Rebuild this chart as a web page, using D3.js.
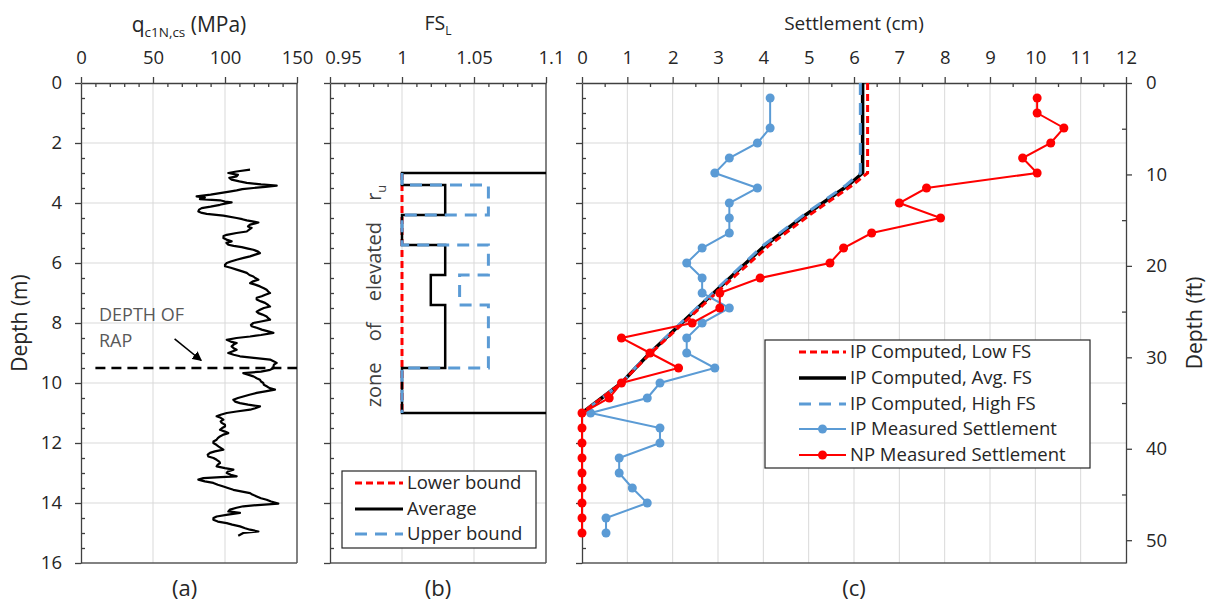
<!DOCTYPE html>
<html>
<head>
<meta charset="utf-8">
<script src="https://cdn.jsdelivr.net/npm/d3@7"></script>
<style>
  body { margin: 0; background: #fff; }
  svg { display: block; font-family: "Open Sans", "Noto Sans", sans-serif; }
</style>
</head>
<body>
<svg id="chart" width="1208" height="602"></svg>
<script>
// ---------- (a) CPT profile: depth (m) and q_c1N,cs (MPa) ----------
const cptDepth = [2.89,2.95,3.0,3.06,3.11,3.16,3.22,3.28,3.33,3.38,3.42,3.46,3.50,3.54,3.58,3.62,3.67,3.72,3.78,3.82,3.87,3.91,3.95,3.98,4.02,4.06,4.12,4.17,4.22,4.28,4.33,4.36,4.42,4.50,4.54,4.58,4.62,4.65,4.68,4.72,4.78,4.83,4.88,4.95,5.0,5.06,5.1,5.17,5.22,5.28,5.33,5.39,5.43,5.47,5.52,5.56,5.62,5.67,5.72,5.78,5.83,5.89,5.95,6.0,6.06,6.11,6.16,6.22,6.28,6.33,6.40,6.45,6.5,6.56,6.62,6.67,6.72,6.78,6.84,6.89,6.95,7.0,7.06,7.11,7.16,7.22,7.28,7.33,7.40,7.45,7.5,7.56,7.62,7.67,7.72,7.78,7.84,7.89,7.95,8.0,8.06,8.11,8.16,8.22,8.28,8.33,8.40,8.45,8.5,8.56,8.62,8.67,8.72,8.78,8.84,8.89,8.95,9.0,9.06,9.11,9.16,9.22,9.28,9.33,9.39,9.45,9.5,9.56,9.62,9.67,9.72,9.78,9.84,9.89,9.95,10.0,10.06,10.11,10.17,10.22,10.28,10.33,10.39,10.45,10.5,10.56,10.62,10.67,10.72,10.78,10.84,10.89,10.95,11.0,11.06,11.11,11.16,11.22,11.28,11.33,11.39,11.45,11.5,11.56,11.62,11.67,11.72,11.78,11.84,11.89,11.95,12.0,12.06,12.11,12.16,12.22,12.28,12.33,12.39,12.45,12.5,12.56,12.62,12.67,12.72,12.78,12.84,12.89,12.95,13.0,13.06,13.11,13.14,13.17,13.22,13.28,13.33,13.39,13.45,13.5,13.56,13.62,13.67,13.72,13.78,13.84,13.89,13.95,14.02,14.06,14.11,14.16,14.22,14.28,14.33,14.39,14.45,14.5,14.56,14.62,14.67,14.72,14.78,14.84,14.89,14.95,15.0,15.09];
const cptQ = [117.4,108,102.3,109,108.1,103,104.6,110,115.1,125,135.9,128,119.7,112,108.1,103,96.5,90,80.3,86,82.6,96.5,100,104.6,100,96.5,90,83.8,82,81.5,84,87.3,98.9,108.1,112,115.1,120,123.2,121,117.4,116,118.5,117,115.1,108,101.2,99,98.9,101,104.6,101,102.3,106,111.6,116,119.7,123,124.3,121,117.4,113,108.1,104,101.2,100,100,104,108.1,112,115.1,117,119.7,121,123.2,119,117.4,121,124.3,127,128.9,130,131.3,128,125.5,122,122.0,125,127.8,130,131.3,127,124.3,122,123.2,126,128.9,130,131.3,125,119.7,118,118.5,122,125.5,130,133.6,125,117.4,108,101.2,104,108.1,106,104.6,106,108.1,105,102.3,106,110.4,120,131.3,134,135.9,134,133.6,134,131.3,125,112.7,116,119.7,122,124.3,125,126.6,127,128.9,131,134.7,128,122.0,117,112.7,109,105.8,107,110.4,116,124.3,121,117.4,108,101.2,97,94.2,97,98.9,97,97.7,100,100.0,98,96.5,100,102.3,99,96.5,95,94.2,92,91.9,94,95.4,97,98.9,93,89.6,88,88.4,92,94.2,96,96.5,95,94.2,100,105.8,102,101.2,104,108.1,97,85.0,81.5,86,91.9,95,98.9,102,105.8,112,117.4,119,122.0,125,128.9,132,137.0,125,112.7,108,103.5,102.3,110.4,102,94.2,92,91.9,95,101.2,105,110.4,114,117.4,123.2,112.7,109.2];
const rapDepth = 9.5;

// ---------- (b) FS_L profiles (FS value, depth) ----------
const fsLowerFS    = [1, 1];
const fsLowerDepth = [3.0, 11.0];
const fsAvgFS      = [1.1, 1, 1, 1.03, 1.03, 1, 1, 1.03, 1.03, 1.02, 1.02, 1.03, 1.03, 1, 1, 1.1];
const fsAvgDepth   = [3.0, 3.0, 3.4, 3.4, 4.4, 4.4, 5.4, 5.4, 6.4, 6.4, 7.4, 7.4, 9.5, 9.5, 11.0, 11.0];
const fsUpperFS    = [1, 1, 1.06, 1.06, 1, 1, 1.06, 1.06, 1.04, 1.04, 1.06, 1.06, 1, 1];
const fsUpperDepth = [3.0, 3.4, 3.4, 4.4, 4.4, 5.4, 5.4, 6.4, 6.4, 7.4, 7.4, 9.5, 9.5, 11.0];

// ---------- (c) Settlement (cm) ----------
const compDepth = [0, 3.0, 3.4, 4.4, 5.4, 6.4, 7.4, 8.0, 9.0, 9.5, 10.0, 11.0];
const compLow   = [6.30, 6.30, 5.97, 5.02, 4.14, 3.40, 2.67, 2.24, 1.52, 1.19, 0.87, 0];
const compAvg   = [6.19, 6.19, 5.88, 4.93, 4.05, 3.33, 2.62, 2.20, 1.50, 1.18, 0.87, 0];
const compHigh  = [6.14, 6.14, 5.83, 4.89, 4.01, 3.30, 2.60, 2.18, 1.49, 1.17, 0.87, 0];

const ipDepth = [0.5,1.5,2,2.5,3,3.5,4,4.5,5,5.5,6,6.5,7,7.5,8,8.5,9,9.5,10,10.5,11,11.5,12,12.5,13,13.5,14,14.5,15];
const ipMeasured = [4.15,4.15,3.87,3.25,2.93,3.87,3.25,3.25,3.25,2.65,2.31,2.65,2.65,3.25,2.65,2.31,2.31,2.93,1.72,1.44,0.19,1.72,1.72,0.82,0.82,1.11,1.44,0.53,0.53];
const npDepth = [0.5,1,1.5,2,2.5,3,3.5,4,4.5,5,5.5,6,6.5,7,7.5,8,8.5,9,9.5,10,10.5,11,11.5,12,12.5,13,13.5,14,14.5,15];
const npMeasured = [10.04,10.04,10.63,10.34,9.72,10.04,7.60,7.00,7.91,6.39,5.77,5.47,3.93,3.04,3.04,2.43,0.87,1.50,2.13,0.87,0.60,0,0,0,0,0,0,0,0,0];

// ---------- axis ticks ----------
const depthMajor = [0, 2, 4, 6, 8, 10, 12, 14, 16];
const depthMinor = d3.range(0.5, 16, 0.5).filter(v => v % 2 !== 0);
const qMajor = [0, 50, 100, 150];
const qMinor = [10, 20, 30, 40, 60, 70, 80, 90, 110, 120, 130, 140];
const fsMajor = [0.95, 1, 1.05, 1.1];
const fsMinor = [96, 97, 98, 99, 101, 102, 103, 104, 106, 107, 108, 109].map(v => v / 100);
const sMajor = d3.range(0, 13, 1);
const sMinor = d3.range(0.5, 12, 1);
const ftMajor = [0, 10, 20, 30, 40, 50];
const ftMinor = [5, 15, 25, 35, 45];
const M_TO_FT = 3.28084;

// ---------- colours ----------
const AX = "#404040", GRID = "#d9d9d9", TXT = "#262626";
const RED = "#ff0000", BLUE = "#5b9bd5";

const svg = d3.select("#chart");

const y   = d3.scaleLinear().domain([0, 16]).range([83, 563]);
const yft = d3.scaleLinear().domain([0, 16 * M_TO_FT]).range([83, 563]);
const xa  = d3.scaleLinear().domain([0, 150]).range([81, 297]);
const xb  = d3.scaleLinear().domain([0.95, 1.1]).range([330, 546]);
const xc  = d3.scaleLinear().domain([0, 12]).range([582, 1126]);

function styleAxis(sel) {
  sel.selectAll("path").attr("stroke", AX).attr("stroke-width", 1.3);
  sel.selectAll("line").attr("stroke", AX).attr("stroke-width", 1.3);
  sel.selectAll("text").attr("fill", TXT).attr("font-size", 18.5)
     .attr("font-family", "'Open Sans', sans-serif");
}

function panel(x, major, minor, fmt, depthLabels, rightFrame) {
  const g = svg.append("g");
  const [x0, x1] = x.range();
  const [y0, y1] = y.range();

  // light grid
  g.append("g").selectAll("line").data(major.slice(1, -1)).join("line")
    .attr("x1", d => x(d)).attr("x2", d => x(d)).attr("y1", y0).attr("y2", y1)
    .attr("stroke", GRID).attr("stroke-width", 1);
  g.append("g").selectAll("line").data(depthMajor.slice(1, -1)).join("line")
    .attr("x1", x0).attr("x2", x1).attr("y1", d => y(d)).attr("y2", d => y(d))
    .attr("stroke", GRID).attr("stroke-width", 1);

  // right and bottom frame
  if (rightFrame) {
    g.append("line").attr("x1", x1).attr("x2", x1).attr("y1", y0).attr("y2", y1)
      .attr("stroke", "#595959").attr("stroke-width", 1.5);
  }
  g.append("line").attr("x1", x0).attr("x2", x1).attr("y1", y1).attr("y2", y1)
    .attr("stroke", "#595959").attr("stroke-width", 1.5);

  // top axis
  const top = g.append("g").attr("class", "top-axis").attr("transform", `translate(0,${y0})`)
    .call(d3.axisTop(x).tickValues(major).tickSize(6).tickSizeOuter(0).tickPadding(13).tickFormat(fmt))
    .call(styleAxis);
  g.append("g").attr("transform", `translate(0,${y0})`)
    .call(d3.axisTop(x).tickValues(minor).tickSize(-4).tickSizeOuter(0).tickFormat(""))
    .call(styleAxis).select(".domain").remove();

  // left depth axis
  g.append("g").attr("transform", `translate(${x0},0)`)
    .call(d3.axisLeft(y).tickValues(depthMajor).tickSize(6).tickSizeOuter(0).tickPadding(13)
      .tickFormat(depthLabels ? d3.format("d") : ""))
    .call(styleAxis);
  g.append("g").attr("transform", `translate(${x0},0)`)
    .call(d3.axisLeft(y).tickValues(depthMinor).tickSize(-4).tickSizeOuter(0).tickFormat(""))
    .call(styleAxis).select(".domain").remove();
  g.top = top;
  return g;
}

const gA = panel(xa, qMajor, qMinor, d3.format("d"), true, true);
const gB = panel(xb, fsMajor, fsMinor, d => String(d), false, true);
const gC = panel(xc, sMajor, sMinor, d3.format("d"), false, false);

// keep the outer FS labels clear of the neighbouring panels
gB.top.selectAll(".tick text").attr("dx", d => d === 0.95 ? 13 : (d === 1.1 ? 5 : 0));

// right-hand depth axis in feet
gC.append("g").attr("transform", `translate(${xc(12)},0)`)
  .call(d3.axisRight(yft).tickValues(ftMajor).tickSize(6).tickSizeOuter(0).tickPadding(14).tickFormat(d3.format("d")))
  .call(styleAxis);
gC.append("g").attr("transform", `translate(${xc(12)},0)`)
  .call(d3.axisRight(yft).tickValues(ftMinor).tickSize(-4).tickSizeOuter(0).tickFormat(""))
  .call(styleAxis).select(".domain").remove();

// ---------- (a) CPT trace ----------
const cptLine = d3.line().x(i => xa(cptQ[i])).y(i => y(cptDepth[i]));
gA.append("path").attr("d", cptLine(d3.range(cptDepth.length)))
  .attr("fill", "none").attr("stroke", "#000").attr("stroke-width", 2.2)
  .attr("stroke-linejoin", "round");

gA.append("line").attr("x1", xa(10)).attr("x2", xa(150))
  .attr("y1", y(rapDepth)).attr("y2", y(rapDepth))
  .attr("stroke", "#000").attr("stroke-width", 2.5).attr("stroke-dasharray", "10,6");

svg.append("defs").append("marker").attr("id", "arrow")
  .attr("viewBox", "0 0 10 10").attr("refX", 9).attr("refY", 5)
  .attr("markerWidth", 6).attr("markerHeight", 6).attr("orient", "auto")
  .append("path").attr("d", "M0,0 L10,5 L0,10 z").attr("fill", "#000");
gA.append("line").attr("x1", xa(65)).attr("y1", y(8.53)).attr("x2", xa(83.5)).attr("y2", y(9.25))
  .attr("stroke", "#000").attr("stroke-width", 1.6).attr("marker-end", "url(#arrow)");

gA.append("text").attr("x", xa(12.5)).attr("y", y(7.93)).attr("fill", "#595959")
  .attr("font-size", 18).text("DEPTH OF");
gA.append("text").attr("x", xa(12.5)).attr("y", y(8.8)).attr("fill", "#595959")
  .attr("font-size", 18).text("RAP");

// ---------- (b) FS_L steps ----------
const stepLine = (xs, ds) => d3.line().x(i => xb(xs[i])).y(i => y(ds[i]))(d3.range(xs.length));
gB.append("path").attr("d", stepLine(fsLowerFS, fsLowerDepth)).attr("fill", "none")
  .attr("stroke", RED).attr("stroke-width", 3).attr("stroke-dasharray", "7,4");
gB.append("path").attr("d", stepLine(fsAvgFS, fsAvgDepth)).attr("fill", "none")
  .attr("stroke", "#000").attr("stroke-width", 2.5);
gB.append("path").attr("d", stepLine(fsUpperFS, fsUpperDepth)).attr("fill", "none")
  .attr("stroke", BLUE).attr("stroke-width", 3).attr("stroke-dasharray", "12,8");

const zone = gB.append("text")
  .attr("transform", `translate(${xb(0.9806)},${y(7.1)}) rotate(-90)`)
  .attr("text-anchor", "middle").attr("dy", "0.35em")
  .attr("fill", "#404040").attr("font-size", 20).attr("word-spacing", 16);
zone.append("tspan").text("zone of elevated r");
zone.append("tspan").attr("font-size", 13).attr("dy", 5).text("u");

// ---------- (c) settlement curves ----------
const sLine = (xs, ds) => d3.line().x(i => xc(xs[i])).y(i => y(ds[i]))(d3.range(xs.length));
gC.append("path").attr("d", sLine(compAvg, compDepth)).attr("fill", "none")
  .attr("stroke", "#000").attr("stroke-width", 3.5).attr("stroke-linejoin", "round");
gC.append("path").attr("d", sLine(compHigh, compDepth)).attr("fill", "none")
  .attr("stroke", BLUE).attr("stroke-width", 3).attr("stroke-dasharray", "12,8");
gC.append("path").attr("d", sLine(compLow, compDepth)).attr("fill", "none")
  .attr("stroke", RED).attr("stroke-width", 3).attr("stroke-dasharray", "7,4");

gC.append("path").attr("d", sLine(ipMeasured, ipDepth)).attr("fill", "none")
  .attr("stroke", BLUE).attr("stroke-width", 2);
gC.append("g").selectAll("circle").data(d3.range(ipDepth.length)).join("circle")
  .attr("cx", i => xc(ipMeasured[i])).attr("cy", i => y(ipDepth[i])).attr("r", 4.5).attr("fill", BLUE);

gC.append("path").attr("d", sLine(npMeasured, npDepth)).attr("fill", "none")
  .attr("stroke", RED).attr("stroke-width", 2);
gC.append("g").selectAll("circle").data(d3.range(npDepth.length)).join("circle")
  .attr("cx", i => xc(npMeasured[i])).attr("cy", i => y(npDepth[i])).attr("r", 4.5).attr("fill", RED);

// ---------- legends ----------
function legend(x, yTop, w, h, rows, sx0, sx1, tx, rowY) {
  const g = svg.append("g");
  g.append("rect").attr("x", x).attr("y", yTop).attr("width", w).attr("height", h)
    .attr("fill", "#fff").attr("stroke", "#262626").attr("stroke-width", 1.2);
  rows.forEach((r, i) => {
    const yy = rowY[i];
    const ln = g.append("line").attr("x1", sx0).attr("x2", sx1).attr("y1", yy).attr("y2", yy)
      .attr("stroke", r.color).attr("stroke-width", r.width);
    if (r.dash) ln.attr("stroke-dasharray", r.dash);
    if (r.marker) g.append("circle").attr("cx", (sx0 + sx1) / 2).attr("cy", yy).attr("r", 4.5).attr("fill", r.color);
    g.append("text").attr("x", tx).attr("y", yy).attr("dy", "0.35em")
      .attr("fill", TXT).attr("font-size", 18.5).text(r.label);
  });
}
legend(342, 471, 194, 77, [
  { label: "Lower bound", color: RED, width: 3, dash: "7,4" },
  { label: "Average", color: "#000", width: 3 },
  { label: "Upper bound", color: BLUE, width: 3, dash: "12,8" }
], 355, 403, 407, [483, 509, 534]);
legend(765, 340, 325, 128, [
  { label: "IP Computed, Low FS", color: RED, width: 3, dash: "7,4" },
  { label: "IP Computed, Avg. FS", color: "#000", width: 3.5 },
  { label: "IP Computed, High FS", color: BLUE, width: 3, dash: "12,8" },
  { label: "IP Measured Settlement", color: BLUE, width: 2, marker: true },
  { label: "NP Measured Settlement", color: RED, width: 2, marker: true }
], 799, 846, 850, [352, 378, 404, 429, 455]);

// ---------- titles ----------
const tq = svg.append("text").attr("x", xa(75)).attr("y", 32).attr("text-anchor", "middle")
  .attr("fill", TXT).attr("font-size", 21);
tq.append("tspan").text("q");
tq.append("tspan").attr("font-size", 13.5).attr("dy", 5).text("c1N,cs");
tq.append("tspan").attr("dy", -5).text(" (MPa)");

const tfs = svg.append("text").attr("x", xb(1.025)).attr("y", 30).attr("text-anchor", "middle")
  .attr("fill", TXT).attr("font-size", 19.5);
tfs.append("tspan").text("FS");
tfs.append("tspan").attr("font-size", 12).attr("dy", 5).text("L");

svg.append("text").attr("x", xc(6)).attr("y", 30).attr("text-anchor", "middle")
  .attr("fill", TXT).attr("font-size", 19).text("Settlement (cm)");

svg.append("text").attr("transform", `translate(27,${y(8)}) rotate(-90)`)
  .attr("text-anchor", "middle").attr("fill", TXT).attr("font-size", 21).text("Depth (m)");
svg.append("text").attr("transform", `translate(1202,${y(8)}) rotate(-90)`)
  .attr("text-anchor", "middle").attr("fill", TXT).attr("font-size", 21).text("Depth (ft)");

[["(a)", xa(72)], ["(b)", xb(1.025)], ["(c)", xc(6)]].forEach(([t, cx]) => {
  svg.append("text").attr("x", cx).attr("y", 596).attr("text-anchor", "middle")
    .attr("fill", TXT).attr("font-size", 22).text(t);
});
</script>
</body>
</html>
